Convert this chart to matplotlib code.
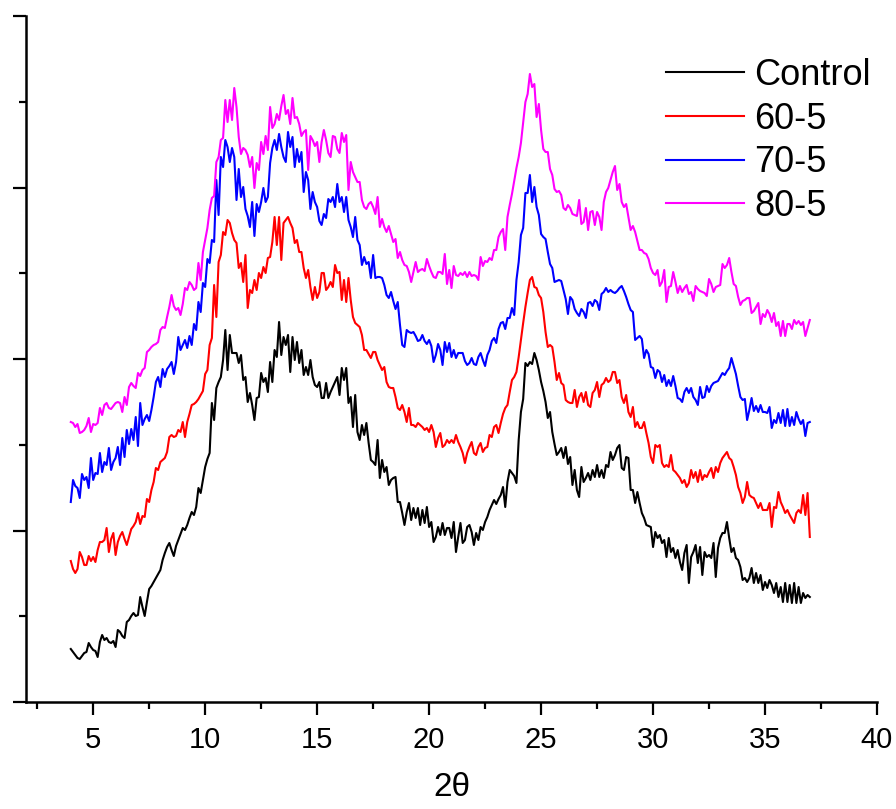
import numpy as np
import matplotlib
matplotlib.use("Agg")
import matplotlib.pyplot as plt
from matplotlib.ticker import MultipleLocator, NullFormatter

plt.rcParams['font.family'] = ['Liberation Sans', 'DejaVu Sans']

# 2-theta scan grid (degrees), 0.1 deg step from 4 to 37
two_theta = np.round(np.arange(4.0, 37.0001, 0.1), 1)

# Diffracted intensity (a.u.), traces stacked with vertical offsets
control = [
    53, 50, 47, 44, 43, 46, 49, 50, 59, 55,
    52, 51, 45, 60, 67, 62, 64, 60, 59, 61,
    55, 72, 70, 66, 64, 80, 82, 86, 89, 86,
    87, 105, 95, 86, 100, 113, 116, 120, 124, 128,
    132, 142, 149, 155, 159, 152, 146, 156, 162, 168,
    174, 172, 177, 184, 190, 187, 195, 214, 209, 222,
    235, 243, 249, 299, 282, 314, 320, 325, 342, 372,
    332, 367, 349, 349, 349, 339, 347, 322, 325, 300,
    309, 297, 282, 304, 305, 329, 320, 324, 310, 340,
    320, 352, 345, 380, 347, 365, 357, 367, 330, 365,
    342, 360, 339, 352, 327, 335, 327, 342, 325, 317,
    315, 320, 304, 304, 319, 304, 310, 315, 320, 325,
    307, 334, 322, 334, 299, 305, 275, 307, 270, 262,
    277, 267, 279, 259, 242, 240, 237, 262, 224, 242,
    230, 235, 217, 222, 224, 225, 200, 200, 189, 177,
    190, 199, 182, 194, 184, 194, 177, 192, 179, 195,
    175, 180, 160, 165, 175, 167, 179, 167, 174, 174,
    164, 180, 150, 165, 179, 159, 162, 175, 177, 170,
    157, 169, 162, 175, 172, 180, 185, 192, 197, 202,
    198, 203, 207, 215, 195, 220, 232, 229, 226, 219,
    262, 290, 303, 339, 336, 340, 338, 349, 342, 332,
    320, 311, 300, 284, 290, 270, 258, 247, 250, 254,
    244, 255, 238, 245, 217, 232, 212, 205, 235, 220,
    224, 229, 222, 232, 225, 237, 225, 232, 224, 237,
    235, 250, 242, 247, 254, 257, 234, 232, 245, 244,
    212, 212, 199, 210, 199, 189, 184, 177, 176, 175,
    155, 170, 164, 167, 159, 162, 145, 164, 150, 154,
    144, 152, 140, 132, 149, 157, 119, 145, 150, 157,
    139, 155, 127, 150, 145, 147, 144, 159, 125, 154,
    164, 169, 169, 180, 164, 150, 154, 144, 142, 135,
    122, 124, 120, 124, 134, 119, 129, 119, 127, 112,
    120, 114, 122, 117, 109, 119, 105, 115, 100, 119,
    100, 117, 99, 119, 99, 115, 99, 109, 104, 107,
    105,
]

s60_5 = [
    141, 133, 129, 133, 150, 145, 137, 137, 146, 141,
    145, 140, 152, 160, 160, 162, 174, 150, 163, 169,
    147, 160, 166, 170, 163, 157, 165, 173, 176, 180,
    189, 178, 186, 185, 203, 200, 212, 220, 234, 232,
    240, 242, 244, 250, 265, 267, 265, 266, 272, 270,
    280, 265, 280, 288, 297, 298, 300, 303, 307, 311,
    328, 332, 357, 364, 417, 385, 440, 447, 470, 467,
    482, 479, 469, 462, 459, 434, 439, 420, 447, 394,
    412, 409, 422, 412, 429, 424, 435, 429, 444, 445,
    460, 485, 457, 485, 442, 479, 482, 485, 479, 474,
    459, 462, 450, 450, 434, 424, 432, 415, 402, 415,
    404, 410, 429, 429, 412, 415, 420, 415, 437, 429,
    430, 402, 422, 400, 424, 402, 385, 379, 377, 375,
    367, 352, 352, 348, 344, 350, 350, 342, 337, 332,
    335, 320, 315, 314, 314, 305, 294, 292, 297, 290,
    280, 294, 277, 277, 275, 279, 277, 275, 272, 274,
    270, 277, 270, 255, 264, 269, 255, 257, 262, 259,
    262, 259, 267, 260, 255, 249, 239, 249, 255, 260,
    249, 247, 255, 259, 250, 254, 255, 267, 265, 275,
    277, 269, 279, 288, 294, 297, 310, 322, 325, 330,
    345, 362, 379, 395, 409, 422, 425, 415, 414, 407,
    404, 390, 370, 355, 357, 355, 340, 322, 329, 319,
    317, 302, 300, 299, 299, 312, 295, 305, 309, 300,
    310, 297, 295, 309, 312, 320, 305, 317, 319, 324,
    320, 322, 330, 330, 319, 322, 305, 299, 307, 290,
    285, 295, 275, 280, 274, 274, 280, 269, 259, 245,
    239, 257, 255, 257, 239, 235, 237, 235, 247, 232,
    230, 227, 224, 219, 222, 215, 219, 232, 224, 230,
    220, 232, 222, 227, 225, 230, 234, 224, 235, 230,
    239, 244, 247, 250, 244, 242, 235, 227, 215, 209,
    199, 205, 220, 207, 205, 204, 199, 194, 199, 192,
    192, 192, 199, 175, 195, 194, 210, 200, 195, 189,
    192, 187, 183, 179, 189, 192, 189, 207, 187, 209,
    165,
]

s70_5 = [
    200, 222, 216, 214, 204, 228, 222, 225, 214, 244,
    222, 229, 228, 249, 230, 240, 237, 254, 232, 240,
    244, 255, 237, 264, 245, 272, 258, 273, 262, 285,
    256, 299, 277, 283, 287, 281, 292, 305, 320, 325,
    315, 333, 325, 333, 336, 340, 328, 340, 365, 352,
    357, 362, 354, 366, 357, 378, 372, 400, 390, 419,
    415, 443, 439, 462, 460, 522, 487, 545, 535, 562,
    555, 540, 554, 545, 502, 533, 505, 515, 493, 486,
    475, 500, 466, 498, 490, 500, 514, 500, 505, 539,
    554, 562, 552, 568, 555, 545, 540, 570, 555, 565,
    535, 553, 540, 550, 510, 530, 522, 493, 510, 500,
    495, 481, 477, 488, 484, 503, 500, 505, 495, 518,
    500, 505, 490, 505, 482, 475, 465, 485, 462, 457,
    437, 445, 438, 440, 424, 447, 424, 425, 425, 424,
    417, 407, 404, 410, 401, 393, 400, 377, 357, 355,
    372, 370, 369, 370, 366, 361, 362, 367, 361, 358,
    362, 356, 340, 347, 358, 352, 337, 360, 350, 359,
    345, 352, 344, 349, 349, 349, 341, 337, 339, 344,
    338, 337, 345, 349, 342, 336, 347, 352, 361, 364,
    359, 373, 379, 380, 373, 384, 384, 394, 387, 422,
    440, 467, 474, 509, 509, 527, 500, 515, 495, 487,
    468, 465, 463, 450, 438, 434, 420, 421, 422, 421,
    412, 403, 388, 405, 402, 393, 389, 386, 393, 390,
    384, 399, 400, 396, 402, 400, 392, 408, 410, 414,
    410, 412, 410, 409, 411, 414, 416, 411, 405, 398,
    392, 390, 362, 364, 366, 363, 344, 352, 348, 335,
    334, 324, 332, 330, 320, 327, 316, 322, 316, 326,
    316, 304, 303, 300, 310, 314, 309, 314, 305, 302,
    297, 315, 304, 305, 316, 310, 316, 319, 320, 321,
    325, 329, 327, 331, 334, 344, 336, 328, 316, 305,
    302, 303, 282, 292, 304, 291, 296, 290, 297, 290,
    290, 289, 295, 274, 282, 279, 289, 279, 292, 276,
    293, 276, 285, 277, 290, 283, 278, 282, 266, 279,
    280,
]

s80_5 = [
    280, 279, 275, 278, 269, 270, 272, 276, 284, 270,
    278, 277, 279, 294, 287, 297, 299, 294, 293, 296,
    299, 300, 299, 290, 305, 297, 315, 319, 316, 314,
    329, 326, 332, 334, 350, 352, 355, 357, 358, 360,
    372, 375, 374, 385, 395, 407, 396, 392, 394, 387,
    398, 414, 412, 420, 417, 412, 414, 439, 422, 450,
    462, 474, 492, 504, 506, 540, 545, 562, 564, 602,
    580, 602, 582, 614, 595, 565, 548, 554, 552, 547,
    535, 545, 514, 539, 532, 560, 548, 566, 552, 595,
    574, 578, 588, 582, 596, 607, 588, 592, 578, 604,
    584, 585, 578, 566, 570, 572, 532, 566, 562, 556,
    560, 540, 560, 572, 562, 549, 545, 566, 565, 553,
    549, 569, 560, 567, 512, 540, 530, 525, 520, 520,
    502, 495, 493, 498, 500, 495, 488, 505, 475, 483,
    475, 470, 476, 468, 460, 463, 444, 450, 442, 437,
    436, 430, 420, 430, 440, 430, 432, 433, 431, 443,
    436, 430, 425, 424, 430, 430, 428, 448, 418, 432,
    414, 436, 427, 426, 429, 427, 430, 425, 430, 426,
    427, 426, 422, 445, 436, 441, 440, 444, 442, 452,
    452, 465, 470, 473, 452, 485, 497, 508, 521, 534,
    545, 559, 580, 600, 608, 628, 615, 618, 585, 598,
    572, 553, 550, 550, 533, 527, 513, 510, 511, 507,
    494, 492, 497, 494, 488, 487, 486, 502, 478, 480,
    494, 472, 490, 491, 477, 490, 485, 472, 500, 510,
    514, 522, 530, 536, 512, 518, 500, 495, 498, 485,
    472, 476, 470, 461, 452, 452, 449, 448, 443, 434,
    429, 427, 432, 416, 420, 432, 400, 415, 416, 430,
    420, 409, 416, 410, 414, 417, 408, 410, 401, 416,
    413, 411, 410, 409, 406, 423, 418, 410, 415, 416,
    417, 438, 434, 437, 444, 430, 418, 416, 405, 397,
    401, 402, 404, 404, 389, 391, 395, 399, 378, 388,
    385, 392, 388, 380, 389, 376, 380, 366, 381, 366,
    378, 378, 373, 382, 378, 381, 377, 380, 366, 374,
    382,
]

labels = ["Control", "60-5", "70-5", "80-5"]
colors = ["#000000", "#ff0000", "#0000ff", "#ff00ff"]
series = [control, s60_5, s70_5, s80_5]

fig = plt.figure(figsize=(8.96, 8.09), dpi=100)
ax = fig.add_axes([26 / 896, 107 / 809, 851 / 896, 686 / 809])

for y, lab, col in zip(series, labels, colors):
    ax.plot(two_theta, y, color=col, lw=1.5, label=lab)

ax.set_xlim(2, 40)
ax.set_ylim(0, 686)

ax.xaxis.set_major_locator(MultipleLocator(5))
ax.xaxis.set_minor_locator(MultipleLocator(2.5))
ax.yaxis.set_major_locator(MultipleLocator(171.5))
ax.yaxis.set_minor_locator(MultipleLocator(85.75))
ax.yaxis.set_major_formatter(NullFormatter())

for side in ("top", "right"):
    ax.spines[side].set_visible(False)
for side in ("left", "bottom"):
    ax.spines[side].set_linewidth(1.8)

ax.tick_params(which="major", direction="out", length=9.5, width=1.6,
               labelsize=21, pad=8)
ax.tick_params(which="minor", direction="out", length=4.8, width=1.6)

ax.set_xlabel("2θ", fontsize=24)
ax.xaxis.label.set_va("center")
ax.xaxis.set_label_coords(0.5, -86 / 686)

leg = ax.legend(loc="upper left", bbox_to_anchor=(666 / 896, 1 - 58 / 809),
                bbox_transform=fig.transFigure, frameon=False, fontsize=26,
                handlelength=2.15, handletextpad=0.3, labelspacing=0.24,
                borderpad=0, borderaxespad=0)
for h in leg.get_lines():
    h.set_linewidth(1.5)

fig.savefig("out.png", dpi=100)
